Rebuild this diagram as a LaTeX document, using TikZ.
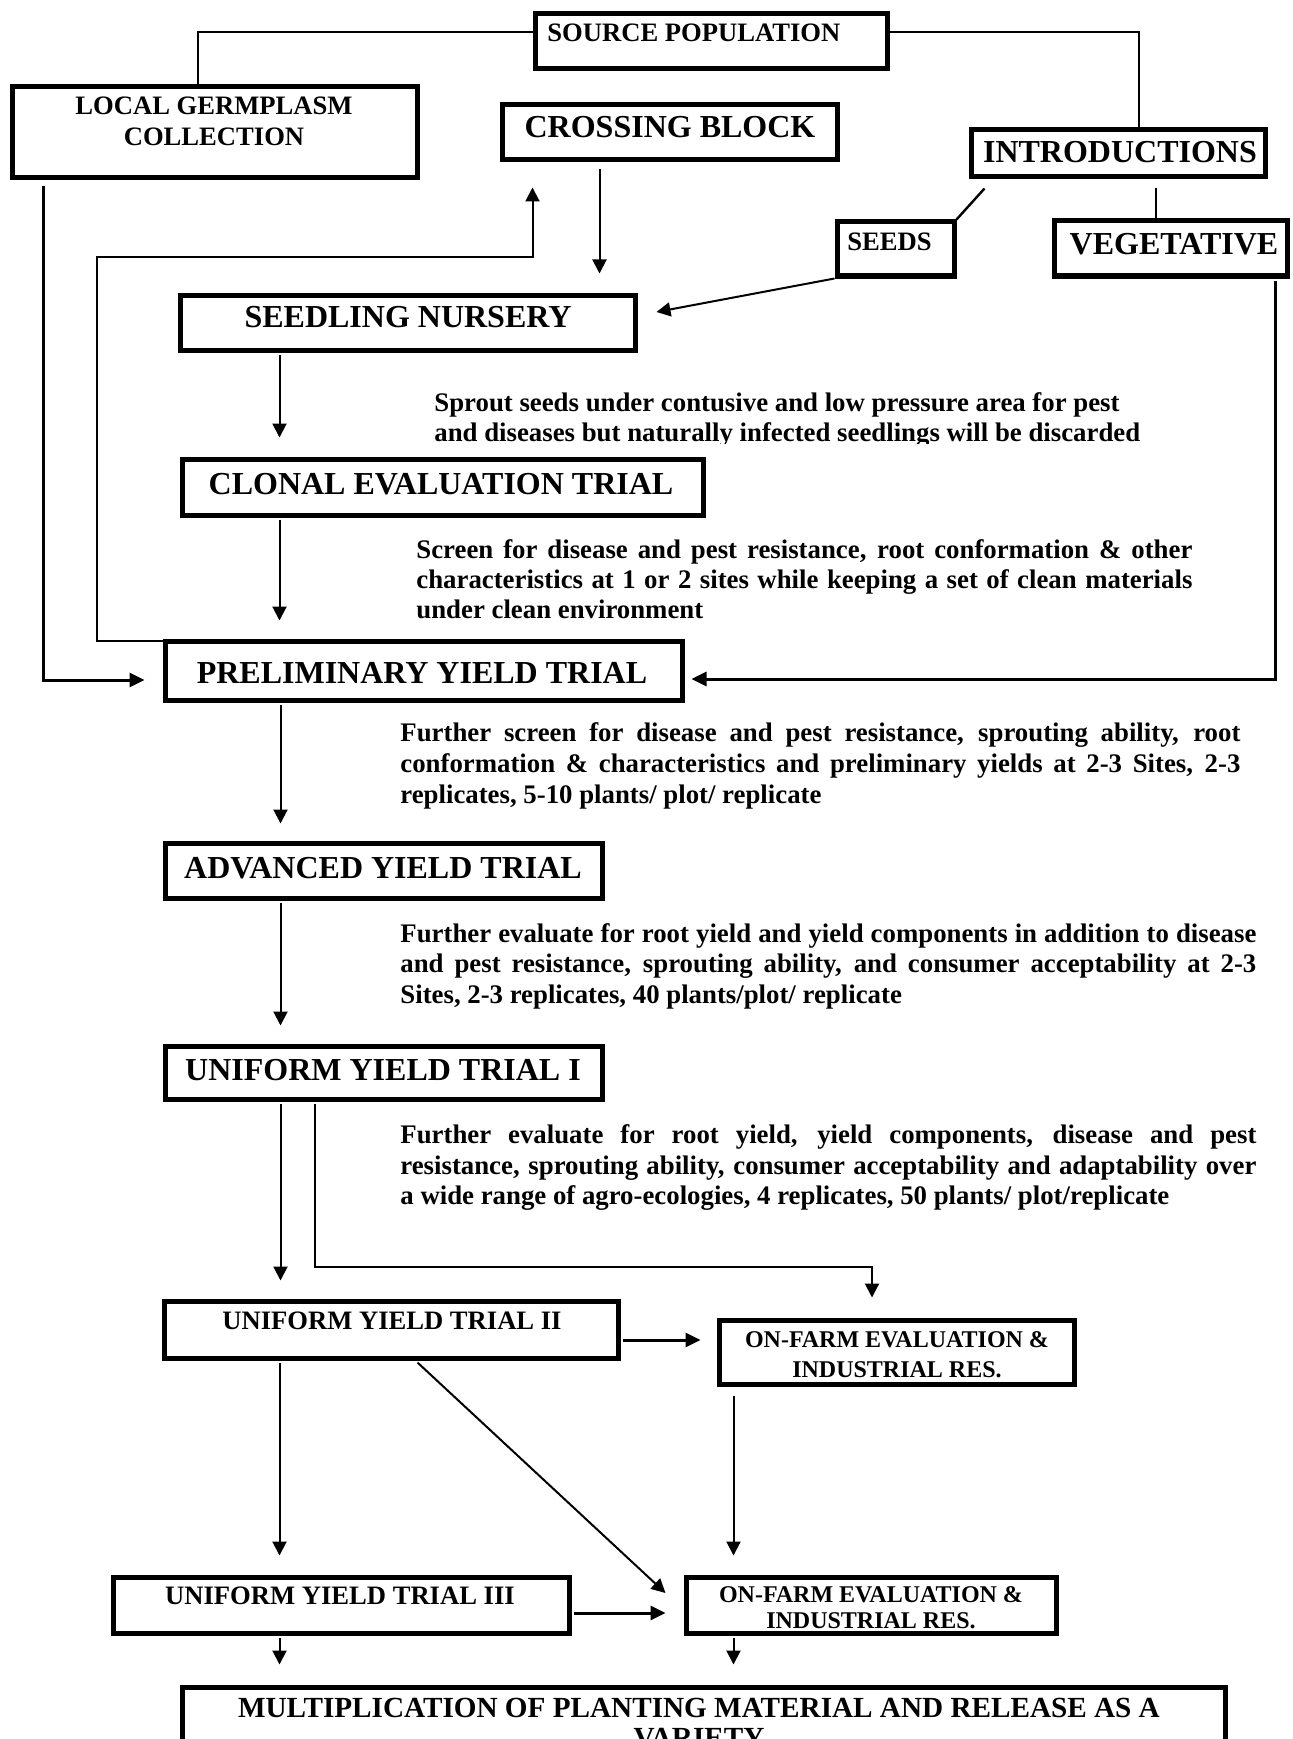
\documentclass[tikz,border=0pt]{standalone}
\usepackage{fontspec}
\setmainfont{Liberation Serif}
\usetikzlibrary{calc,arrows.meta}
\tikzset{
  boxst/.style={draw, line width=2.5pt, inner sep=0pt},
  lbl/.style={inner sep=0pt, font=\bfseries\fontsize{#1}{#1}\selectfont},
  big/.style={lbl=16, anchor=base},
  sml/.style={lbl=13.3, anchor=base},
  ofet/.style={lbl=12, anchor=base},
  multt/.style={lbl=14.6, anchor=base},
  para/.style={lbl=13.4, anchor=base west},
  conn/.style={line width=0.9pt},
  arr/.style={line width=1pt, -{Triangle[length=7pt,width=7pt]}},
  arrthick/.style={line width=1.5pt, -{Triangle[length=7.5pt,width=7pt]}},
}
\begin{document}
\begin{tikzpicture}[x=0.5pt,y=-0.5pt]
\fill[white] (0,0) rectangle (1293,1739);
\useasboundingbox (0,0) rectangle (1293,1739);

% ---------- texts ----------
\node[sml, anchor=base west] (tsrc) at (547,42) {SOURCE POPULATION};
\node[sml] (tlgc1) at (214,115) {LOCAL GERMPLASM};
\node[sml] (tlgc2) at (214,146) {COLLECTION};
\node[big] (tcb) at (670,138) {CROSSING BLOCK};
\node[big] (tintro) at (1120,163) {INTRODUCTIONS};
\node[sml, anchor=base west] (tseeds) at (847,250) {SEEDS};
\node[big] (tveg) at (1174,255) {VEGETATIVE};
\node[big] (tsn) at (408,328) {SEEDLING NURSERY};
\node[big] (tcet) at (441,494) {CLONAL EVALUATION TRIAL};
\node[big] (tpyt) at (422,683) {PRELIMINARY YIELD TRIAL};
\node[big] (tayt) at (383,878) {ADVANCED YIELD TRIAL};
\node[big] (tuyt1) at (383,1080) {UNIFORM YIELD TRIAL I};
\node[sml] (tuyt2) at (392,1329) {UNIFORM YIELD TRIAL II};
\node[ofet] (tofe1a) at (897,1347) {ON-FARM EVALUATION \&};
\node[ofet] (tofe1b) at (897,1377) {INDUSTRIAL RES.};
\node[sml] (tuyt3) at (340,1604) {UNIFORM YIELD TRIAL III};
\node[ofet] (tofe2a) at (871,1602) {ON-FARM EVALUATION \&};
\node[ofet] (tofe2b) at (871,1628) {INDUSTRIAL RES.};
\node[multt] (tmult1) at (699,1717) {MULTIPLICATION OF PLANTING MATERIAL AND RELEASE AS A};
\node[multt] (tmult2) at (699,1747) {VARIETY};

% paragraphs
\begin{scope}
\clip (420,380) rectangle (1200,443);
\node[para] (p1a) at (434,411) {Sprout seeds under contusive and low pressure area for pest};
\node[para] (p1b) at (434,441) {and diseases but naturally infected seedlings will be discarded};
\end{scope}
\node[para] (p2a) at (416,558) {\makebox[388pt][s]{Screen for disease and pest resistance, root conformation \& other}};
\node[para] (p2b) at (416,588) {\makebox[388pt][s]{characteristics at 1 or 2 sites while keeping a set of clean materials}};
\node[para] (p2c) at (416,618) {under clean environment};

\node[para] (p3a) at (400,741) {\makebox[420pt][s]{Further screen for disease and pest resistance, sprouting ability, root}};
\node[para] (p3b) at (400,772) {\makebox[420pt][s]{conformation \& characteristics and preliminary yields at 2-3 Sites, 2-3}};
\node[para] (p3c) at (400,803) {replicates, 5-10 plants/ plot/ replicate};

\node[para] (p4a) at (400,942) {\makebox[428pt][s]{Further evaluate for root yield and yield components in addition to disease}};
\node[para] (p4b) at (400,972) {\makebox[428pt][s]{and pest resistance, sprouting ability, and consumer acceptability at 2-3}};
\node[para] (p4c) at (400,1003) {Sites, 2-3 replicates, 40 plants/plot/ replicate};

\node[para] (p5a) at (400,1143) {\makebox[428pt][s]{Further evaluate for root yield, yield components, disease and pest}};
\node[para] (p5b) at (400,1174) {\makebox[428pt][s]{resistance, sprouting ability, consumer acceptability and adaptability over}};
\node[para] (p5c) at (400,1204) {a wide range of agro-ecologies, 4 replicates, 50 plants/ plot/replicate};

% ---------- boxes ----------
\node[boxst, minimum width=352*0.5pt, minimum height=55*0.5pt] (src) at (711,41.5) {};
\node[boxst, minimum width=405*0.5pt, minimum height=91*0.5pt] (lgc) at (214.5,132.5) {};
\node[boxst, minimum width=335*0.5pt, minimum height=55*0.5pt] (cb) at (669.5,132.5) {};
\node[boxst, minimum width=294*0.5pt, minimum height=47*0.5pt] (intro) at (1118,153.5) {};
\node[boxst, minimum width=117*0.5pt, minimum height=54*0.5pt] (seeds) at (895.5,249) {};
\node[boxst, minimum width=233*0.5pt, minimum height=55*0.5pt] (veg) at (1170.5,248.5) {};
\node[boxst, minimum width=455*0.5pt, minimum height=55*0.5pt] (sn) at (407.5,322.5) {};
\node[boxst, minimum width=521*0.5pt, minimum height=56*0.5pt] (cet) at (442.5,487) {};
\node[boxst, minimum width=517*0.5pt, minimum height=59*0.5pt] (pyt) at (423.5,670.5) {};
\node[boxst, minimum width=437*0.5pt, minimum height=55*0.5pt] (ayt) at (383.5,870.5) {};
\node[boxst, minimum width=437*0.5pt, minimum height=53*0.5pt] (uyt1) at (383.5,1072.5) {};
\node[boxst, minimum width=454*0.5pt, minimum height=57*0.5pt] (uyt2) at (391,1329.5) {};
\node[boxst, minimum width=355*0.5pt, minimum height=64*0.5pt] (ofe1) at (896.5,1352) {};
\node[boxst, minimum width=456*0.5pt, minimum height=56*0.5pt] (uyt3) at (341,1605) {};
\node[boxst, minimum width=370*0.5pt, minimum height=56*0.5pt] (ofe2) at (871,1605) {};
\node[boxst, minimum width=1043*0.5pt, minimum height=103*0.5pt] (mult) at (703.5,1738.5) {};

% ---------- connectors ----------
\draw[conn] ($(src.west)+(0,-9.5)$) -| ($(lgc.north)+(-16.5,0)$);
\draw[conn] ($(src.east)+(0,-9.5)$) -| ($(intro.north)+(21,0)$);
\draw[line width=1.2pt] ($(intro.south west)+(16,9)$) -- (seeds.north east);
\coordinate (i4) at ($(intro.south)+(38,9)$);
\draw[line width=1.2pt] (i4) -- (i4 |- veg.north);
\draw[arr] (seeds.south west) -- ($(sn.east)+(19,-10.5)$);

\coordinate (cbA) at ($(cb.south west)+(100,7)$);
\coordinate (cbB) at ($(sn.north)+(0,-19)$);
\draw[arr] (cbA) -- (cbA |- cbB);

\coordinate (fb1) at (97,257);
\draw[arr] ($(pyt.north west)+(0,2)$) -| (fb1) -| ($(cb.south west)+(33,25)$);

\draw[arrthick] ($(lgc.south west)+(34,6)$) |- ($(pyt.west)+(-18,9.5)$);
\draw[arrthick] ($(veg.south east)+(-14,2)$) |- ($(pyt.east)+(7,8.5)$);

\coordinate (a1) at ($(sn.south west)+(102,2)$);
\coordinate (a1e) at ($(cet.north)+(0,-19)$);
\draw[arr] (a1) -- (a1 |- a1e);

\coordinate (a2) at ($(cet.south west)+(100,2)$);
\coordinate (a2e) at ($(pyt.north)+(0,-18)$);
\draw[arr] (a2) -- (a2 |- a2e);

\coordinate (a3) at ($(pyt.south west)+(118,2)$);
\coordinate (a3e) at ($(ayt.north)+(0,-17)$);
\draw[arr] (a3) -- (a3 |- a3e);

\coordinate (a4) at ($(ayt.south west)+(118,2)$);
\coordinate (a4e) at ($(uyt1.north)+(0,-18)$);
\draw[arr] (a4) -- (a4 |- a4e);

\coordinate (a5) at ($(uyt1.south west)+(118,2)$);
\coordinate (a5e) at ($(uyt2.north)+(0,-18)$);
\draw[arr] (a5) -- (a5 |- a5e);

\coordinate (a6) at ($(uyt1.south west)+(152,2)$);
\draw[arr] (a6) -- ++(0,163) -| ($(ofe1.north)+(-24.5,-20)$);

\coordinate (a7) at ($(uyt2.east)+(2,10.5)$);
\coordinate (a7w) at (ofe1.west |- a7);
\draw[arrthick] (a7) -- ($(a7w)+(-16,0)$);

\coordinate (a8) at ($(uyt2.south west)+(118,2)$);
\coordinate (a8e) at ($(uyt3.north)+(0,-19)$);
\draw[arr] (a8) -- (a8 |- a8e);

\draw[arr] ($(uyt2.south west)+(256,2)$) -- ($(ofe2.west)+(-18,-12)$);

\coordinate (a9) at ($(ofe1.south west)+(17,9)$);
\coordinate (a9e) at ($(ofe2.north)+(0,-19)$);
\draw[arr] (a9) -- (a9 |- a9e);

\coordinate (a10) at ($(uyt3.east)+(2,8)$);
\coordinate (a10w) at (ofe2.west |- a10);
\draw[arrthick] (a10) -- ($(a10w)+(-18,0)$);

\coordinate (a11) at ($(uyt3.south west)+(169,2)$);
\coordinate (a11e) at ($(mult.north)+(0,-20)$);
\draw[arr] (a11) -- (a11 |- a11e);

\coordinate (a12) at ($(ofe2.south west)+(50,2)$);
\draw[arr] (a12) -- (a12 |- a11e);
\end{tikzpicture}
\end{document}
